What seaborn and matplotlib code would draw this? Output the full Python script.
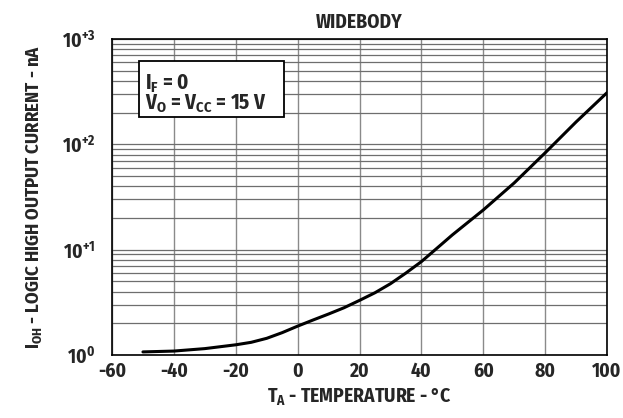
import matplotlib
matplotlib.use("Agg")
import matplotlib.pyplot as plt
import seaborn as sns
import pandas as pd
from matplotlib.patches import Rectangle
from matplotlib.ticker import LogLocator, NullFormatter, FixedLocator

# values
temperature = [-50, -40, -30, -20, -15, -10, -5, 0, 5, 10, 15, 20, 25, 30,
               35, 40, 45, 50, 60, 70, 80, 90, 100]
ioh_na = [1.07, 1.09, 1.15, 1.25, 1.32, 1.44, 1.63, 1.88, 2.15, 2.45, 2.81, 3.3, 3.9, 4.75,
          6.0, 7.7, 10.3, 13.8, 23.8, 43, 83, 163, 309]
x_ticks = [-60, -40, -20, 0, 20, 40, 60, 80, 100]
y_ticks = [1, 10, 100, 1000]
y_tick_labels = ["10$^{0}$", "10$^{+1}$", "10$^{+2}$", "10$^{+3}$"]

df = pd.DataFrame({"T": temperature, "I": ioh_na})

sns.set_style("white")
font = ["Fira Sans Condensed", "DejaVu Sans"]
plt.rcParams["font.family"] = font
plt.rcParams["font.weight"] = "bold"
plt.rcParams["mathtext.default"] = "regular"
plt.rcParams["axes.unicode_minus"] = False

fig = plt.figure(figsize=(6.23, 4.18), dpi=100)
ax = fig.add_axes([0.1798, 0.1507, 0.7945, 0.756])

sns.lineplot(data=df, x="T", y="I", color="black", linewidth=2.2, ax=ax)

ax.set_yscale("log")
ax.set_xlim(-60, 100)
ax.set_ylim(1, 1000)
ax.xaxis.set_major_locator(FixedLocator(x_ticks))
ax.set_yticks(y_ticks)
ax.set_yticklabels(y_tick_labels)
ax.yaxis.set_minor_locator(LogLocator(base=10, subs=range(2, 10)))
ax.yaxis.set_minor_formatter(NullFormatter())

ax.grid(True, which="major", axis="x", color="#8a8a8a", linewidth=1.0)
ax.grid(True, which="both", axis="y", color="#6e6e6e", linewidth=0.9)
ax.tick_params(axis="x", which="both", length=0, labelsize=14, pad=5)
ax.tick_params(axis="y", which="both", length=0, labelsize=14, pad=12)
for lab in ax.get_xticklabels() + ax.get_yticklabels():
    lab.set_fontweight("bold")
for s in ax.spines.values():
    s.set_visible(True)
    s.set_color("black")
    s.set_linewidth(1.2)

ax.set_xlabel("T$_{A}$ - TEMPERATURE - °C", fontsize=14, fontweight="bold", labelpad=4)
ax.set_ylabel("I$_{OH}$ - LOGIC HIGH OUTPUT CURRENT - nA", fontsize=13.5, fontweight="bold", labelpad=13)
ax.set_title("WIDEBODY", fontsize=14, fontweight="bold", pad=8)

# condition box
ax.add_patch(Rectangle((0.0545, 0.753), 0.293, 0.177, transform=ax.transAxes,
                       facecolor="white", edgecolor="black", linewidth=1.3, zorder=5))
ax.text(0.066, 0.86, "I$_{F}$ = 0", transform=ax.transAxes, fontsize=15,
        fontweight="bold", va="center", ha="left", zorder=6)
ax.text(0.066, 0.795, "V$_{O}$ = V$_{CC}$ = 15 V", transform=ax.transAxes, fontsize=15,
        fontweight="bold", va="center", ha="left", zorder=6)

fig.savefig("out.png", dpi=100)
